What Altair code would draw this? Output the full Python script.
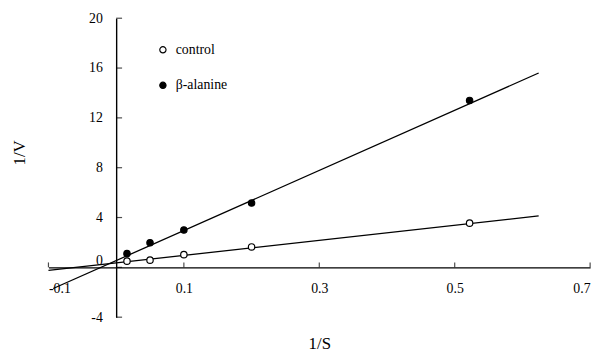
import altair as alt
import pandas as pd

# 1/S values for the measured points
inv_s = [0.016, 0.05, 0.1, 0.2, 0.522]
# 1/V values
control_v = [0.5, 0.58, 1.02, 1.64, 3.55]
beta_v = [1.1, 1.98, 3.0, 5.16, 13.4]

series_names = ["control", "β-alanine"]

# fitted line end points
line_x_control = [-0.1, 0.624]
line_y_control = [-0.25, 4.13]
line_x_beta = [-0.093, 0.624]
line_y_beta = [-1.7, 15.6]

x_ticks = [-0.1, 0.1, 0.3, 0.5, 0.7]
y_ticks = [-4, 0, 4, 8, 12, 16, 20]

FONT = "Liberation Serif"

pts = pd.DataFrame({
    "x": inv_s + inv_s,
    "y": control_v + beta_v,
    "series": [series_names[0]] * len(inv_s) + [series_names[1]] * len(inv_s),
})
lines = pd.DataFrame({
    "x": line_x_control + line_x_beta,
    "y": line_y_control + line_y_beta,
    "series": [series_names[0]] * 2 + [series_names[1]] * 2,
})
xt = pd.DataFrame({"x": x_ticks})
yt = pd.DataFrame({"y": y_ticks})

W, H = 549, 303
xdom = [-0.1, 0.7]
ydom = [-4, 20]
x_off = -W * (0 - xdom[0]) / (xdom[1] - xdom[0])
y_off = -H * (0 - ydom[0]) / (ydom[1] - ydom[0])

xscale = alt.Scale(domain=xdom, nice=False, zero=False)
yscale = alt.Scale(domain=ydom, nice=False, zero=False)

label_expr = "replace(format(datum.value, '.1f'), '\u2212', '-')"
label_expr_y = "replace(format(datum.value, 'd'), '\u2212', '-')"

x_axis = alt.Axis(
    values=x_ticks, ticks=False, grid=False, domainColor="black", domainWidth=1.4,
    labelFont=FONT, labelFontSize=14, labelColor="black", labelPadding=14,
    labelExpr=label_expr, offset=y_off, title="1/S", titleFont=FONT,
    titleFontSize=17, titleFontWeight="normal", titleColor="black",
    titleY=77, titleBaseline="middle",
)
y_axis = alt.Axis(
    values=y_ticks, ticks=False, grid=False, domainColor="black", domainWidth=1.4,
    labelFont=FONT, labelFontSize=14, labelColor="black", labelPadding=14,
    labelExpr=label_expr_y, offset=x_off,
    labelBaseline=alt.condition("datum.value == 0", alt.value("bottom"), alt.value("middle")),
    title="1/V", titleFont=FONT, titleFontSize=17, titleFontWeight="normal",
    titleColor="black", titleX=-98, titleY=136, titleBaseline="middle", titleAngle=270,
)

X = alt.X("x:Q", scale=xscale, axis=x_axis, title="1/S")
Y = alt.Y("y:Q", scale=yscale, axis=y_axis, title="1/V")

line_layer = alt.Chart(lines).mark_line(color="black", strokeWidth=1.3).encode(
    x=X, y=Y, detail="series:N",
)

point_layer = alt.Chart(pts).mark_circle(size=42, stroke="black", strokeWidth=1.2, opacity=1).encode(
    x=X, y=Y,
    fill=alt.Fill("series:N", scale=alt.Scale(domain=series_names, range=["white", "black"]),
                  legend=alt.Legend(orient="none", legendX=109, legendY=25, title=None,
                                    symbolType="circle", symbolSize=40,
                                    symbolStrokeColor="black", symbolStrokeWidth=1.2,
                                    labelFont=FONT, labelFontSize=14, labelColor="black",
                                    rowPadding=22, labelOffset=6, padding=0)),
)

ytick_layer = alt.Chart(yt).transform_calculate(x="0").mark_tick(
    orient="horizontal", size=6, thickness=1.2, color="black", xOffset=3).encode(x=X, y=Y)
xtick_layer = alt.Chart(xt).transform_calculate(y="0").mark_tick(
    orient="vertical", size=5, thickness=1.2, color="black", yOffset=-2.5).encode(x=X, y=Y)

chart = alt.layer(line_layer, ytick_layer, xtick_layer, point_layer).properties(
    width=W, height=H,
    autosize=alt.AutoSizeParams(type="none"),
    padding={"left": 41, "top": 8, "right": 9, "bottom": 39},
    background="white",
).configure_view(stroke=None)

chart.save("out.html", embed_options={"renderer": "svg", "actions": False})
